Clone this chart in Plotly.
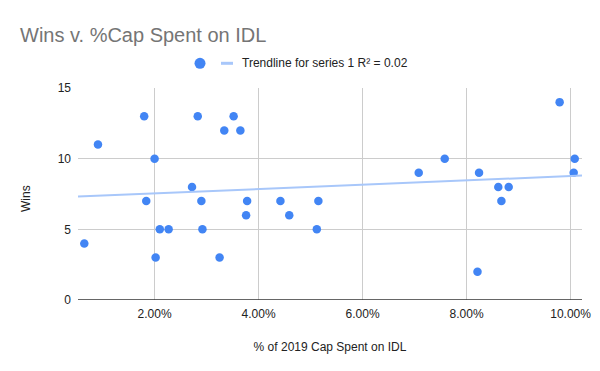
import numpy as np
import plotly.graph_objects as go

cap_pct = [0.648, 0.911, 1.80, 1.84, 2.00, 2.02, 2.10, 2.27, 2.72, 2.83, 2.90, 2.92,
           3.25, 3.34, 3.52, 3.65, 3.76, 3.78, 4.42, 4.59, 5.12, 5.15,
           7.08, 7.58, 8.21, 8.24, 8.61, 8.67, 8.81, 9.79, 10.06, 10.08]
wins = [4, 11, 13, 7, 10, 3, 5, 5, 8, 13, 7, 5,
        3, 12, 13, 12, 6, 7, 7, 6, 5, 7,
        9, 10, 2, 9, 8, 7, 8, 14, 9, 10]
x_ticks = [0.02, 0.04, 0.06, 0.08, 0.10]
y_ticks = [0, 5, 10, 15]

x = np.array(cap_pct) / 100.0
y = np.array(wins, dtype=float)
slope, intercept = np.polyfit(x, y, 1)
pred = slope * x + intercept
r2 = 1 - np.sum((y - pred) ** 2) / np.sum((y - y.mean()) ** 2)

x_range = [0.00527, 0.1022]
tx = np.array(x_range)
ty = slope * tx + intercept

W, H = 600, 371
ML, MR, MT, MB = 78, 18, 88, 71
PW, PH = W - ML - MR, H - MT - MB


def px_x(p):
    return (p - ML) / PW


def px_y(p):
    return (H - MB - p) / PH


font = "Liberation Sans, Arial, sans-serif"
blue = "#4285F4"
trend_col = "#A8C7FA"
trend_name = f"Trendline for series 1 R\u00b2 = {r2:.2f}"

fig = go.Figure()
fig.add_trace(go.Scatter(
    x=x, y=y, mode="markers", name="",
    marker=dict(color=blue, size=8.5, line=dict(width=0)),
    showlegend=False,
))
fig.add_trace(go.Scatter(
    x=tx, y=ty, mode="lines", name=trend_name,
    line=dict(color=trend_col, width=2),
    showlegend=False,
))

shapes = [
    dict(type="line", xref="paper", yref="y", x0=0, x1=1, y0=0, y1=0,
         line=dict(color="#333333", width=1.3), layer="above"),
    dict(type="circle", xref="paper", yref="paper",
         xsizemode="pixel", ysizemode="pixel",
         xanchor=px_x(200), yanchor=px_y(63.3),
         x0=-5.5, x1=5.5, y0=-5.5, y1=5.5,
         fillcolor=blue, line=dict(width=0)),
    dict(type="line", xref="paper", yref="paper",
         x0=px_x(221), x1=px_x(233), y0=px_y(63.3), y1=px_y(63.3),
         line=dict(color=trend_col, width=3)),
]

annotations = [
    dict(text=trend_name, xref="paper", yref="paper",
         x=px_x(240), y=px_y(63.3), xanchor="left", yanchor="middle",
         showarrow=False, font=dict(family=font, size=12, color="#222222")),
    dict(text="Wins", xref="paper", yref="paper",
         x=px_x(26), y=px_y(199), xanchor="center", yanchor="middle",
         textangle=-90, showarrow=False,
         font=dict(family=font, size=12, color="#222222")),
]

fig.update_layout(
    width=W, height=H,
    paper_bgcolor="white", plot_bgcolor="white",
    margin=dict(l=ML, r=MR, t=MT, b=MB, autoexpand=False),
    font=dict(family=font, size=12, color="#222222"),
    title=dict(text="Wins v. %Cap Spent on IDL", x=20 / W, xanchor="left",
               xref="container", yref="container",
               y=1 - 35 / H, yanchor="middle",
               font=dict(family=font, size=20, color="#757575")),
    showlegend=False,
    hovermode=False,
    xaxis=dict(range=x_range, tickvals=x_ticks, tickformat=".2%",
               showgrid=True, gridcolor="#CCCCCC", gridwidth=1,
               zeroline=False, showline=False, ticks="",
               ticklabelstandoff=5,
               tickfont=dict(family=font, size=12, color="#222222"),
               title=dict(text="% of 2019 Cap Spent on IDL", standoff=22,
                          font=dict(family=font, size=12, color="#222222"))),
    yaxis=dict(range=[0, 15], tickvals=y_ticks,
               showgrid=True, gridcolor="#CCCCCC", gridwidth=1,
               zeroline=False, showline=False, ticks="",
               ticklabelstandoff=6,
               tickfont=dict(family=font, size=12, color="#222222")),
    shapes=shapes,
    annotations=annotations,
)

fig.write_html("out.html",
               config={"displayModeBar": False},
               post_script="document.body.style.margin='0';document.body.style.overflow='hidden';")
